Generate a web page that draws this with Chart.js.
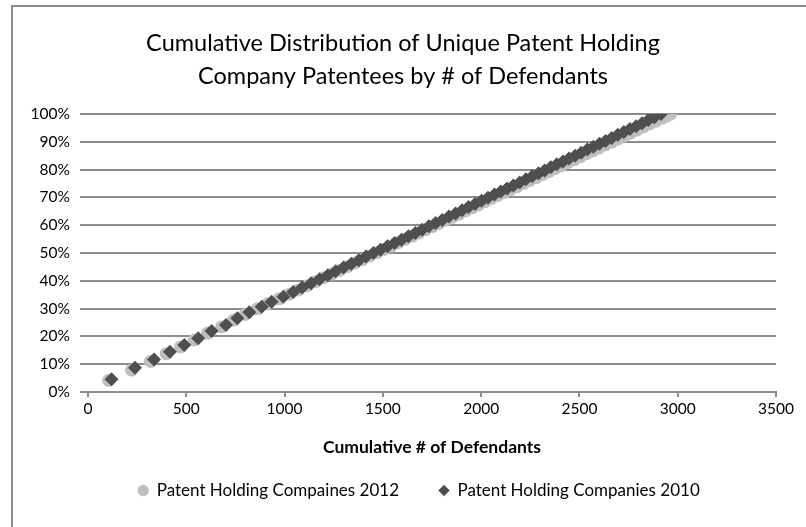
<!DOCTYPE html>
<html>
<head>
<meta charset="utf-8">
<script src="https://cdn.jsdelivr.net/npm/chart.js@4.4.1/dist/chart.umd.min.js"></script>
<style>
  body { margin: 0; background: #fff; }
  #wrap { position: relative; width: 806px; height: 527px; overflow: hidden; }
  #frame { position: absolute; left: 11px; top: 5px; width: 900px; height: 600px; border: 2px solid #8c8c8c; }
  #myChart { position: absolute; left: 0; top: 0; }
</style>
</head>
<body>
<div id="wrap">
  <div id="frame"></div>
  <canvas id="myChart" width="806" height="527"></canvas>
</div>
<script>
// cumulative # of defendants (x) and cumulative % of patentees (y)
const x2012 = [105, 222, 318, 398, 470, 541, 609, 680, 740, 800, 862, 914, 972, 1024,
  1070, 1115, 1158, 1200, 1240, 1280, 1320, 1358, 1396, 1433, 1470, 1506, 1542, 1578,
  1613, 1648, 1683, 1718, 1752, 1786, 1820, 1854, 1888, 1921, 1954, 1987, 2020, 2053,
  2086, 2119, 2152, 2184, 2216, 2248, 2280, 2312, 2344, 2376, 2408, 2440, 2472, 2504,
  2536, 2568, 2600, 2632, 2664, 2696, 2728, 2760, 2792, 2824, 2856, 2888, 2920, 2943, 2965];
const y2012 = [4.2, 7.9, 11.0, 13.8, 16.2, 18.7, 21.2, 23.4, 25.8, 27.9, 29.9, 31.7, 33.5, 35.2,
  36.7, 38.2, 39.7, 41.1, 42.4, 43.7, 45.1, 46.4, 47.6, 48.9, 50.1, 51.3, 52.5, 53.7,
  54.9, 56.0, 57.2, 58.4, 59.5, 60.6, 61.8, 62.9, 64.0, 65.1, 66.2, 67.3, 68.5, 69.6,
  70.7, 71.8, 72.9, 73.9, 75.0, 76.1, 77.1, 78.2, 79.3, 80.3, 81.4, 82.5, 83.5, 84.6,
  85.7, 86.7, 87.8, 88.9, 89.9, 91.0, 92.1, 93.1, 94.2, 95.3, 96.4, 97.4, 98.5, 99.2, 100.0];

const x2010 = [120, 239, 336, 417, 490, 561, 629, 702, 760, 821, 884, 934, 994, 1044,
  1090, 1135, 1178, 1220, 1260, 1300, 1340, 1378, 1415, 1452, 1488, 1524, 1560, 1595,
  1630, 1665, 1700, 1734, 1768, 1802, 1836, 1870, 1903, 1936, 1969, 2002, 2035, 2068,
  2100, 2132, 2164, 2196, 2228, 2260, 2292, 2323, 2354, 2385, 2416, 2447, 2478, 2509,
  2540, 2571, 2602, 2633, 2664, 2695, 2726, 2757, 2788, 2819, 2850, 2881, 2915];
const y2010 = [4.6, 8.7, 11.7, 14.5, 16.9, 19.3, 21.9, 24.1, 26.5, 28.7, 30.7, 32.5, 34.3, 36.0,
  37.6, 39.1, 40.6, 42.0, 43.4, 44.8, 46.1, 47.4, 48.7, 50.0, 51.2, 52.4, 53.6, 54.8,
  56.0, 57.2, 58.4, 59.6, 60.8, 61.9, 63.1, 64.2, 65.4, 66.5, 67.6, 68.8, 69.9, 71.0,
  72.1, 73.2, 74.3, 75.4, 76.5, 77.6, 78.7, 79.7, 80.8, 81.9, 82.9, 84.0, 85.0, 86.1,
  87.2, 88.2, 89.3, 90.3, 91.4, 92.5, 93.5, 94.6, 95.6, 96.7, 97.8, 98.8, 100.0];

const seriesNames = ["Patent Holding Compaines 2012", "Patent Holding Companies 2010"];
const titleLines = ["Cumulative Distribution of Unique Patent Holding", "Company Patentees by # of Defendants"];
const xTitle = "Cumulative # of Defendants";

function toPoints(xs, ys) {
  return xs.map((x, i) => ({ x: x, y: ys[i] }));
}

const fontFamily = "Lato, 'Open Sans', sans-serif";
const gridGray = "#8c8c8c";

// nudge the bottom legend to the right, where the original sits
const legendShift = {
  id: "legendShift",
  afterLayout(chart) {
    if (chart.legend) {
      chart.legend.left += 16;
      chart.legend.right += 16;
    }
  },
};

const ctx = document.getElementById("myChart").getContext("2d");
const myChart = new Chart(ctx, {
  type: "scatter",
  data: {
    datasets: [
      {
        label: seriesNames[0],
        data: toPoints(x2012, y2012),
        pointStyle: "circle",
        pointRadius: 6.5,
        backgroundColor: "#bfbfbf",
        borderColor: "#bfbfbf",
        borderWidth: 0,
        order: 2,
      },
      {
        label: seriesNames[1],
        data: toPoints(x2010, y2010),
        pointStyle: "rectRot",
        pointRadius: 7,
        backgroundColor: "#4f4f4f",
        borderColor: "#4f4f4f",
        borderWidth: 0,
        order: 1,
      },
    ],
  },
  options: {
    responsive: false,
    animation: false,
    events: [],
    layout: { padding: { left: 30, right: 30, top: 0, bottom: 18 } },
    scales: {
      x: {
        type: "linear",
        min: 0,
        max: 3500,
        afterFit: (scale) => { scale.height = 50; },
        ticks: {
          stepSize: 500,
          color: "#000",
          padding: 3,
          font: { family: fontFamily, size: 15.5 },
          callback: (v) => String(v),
        },
        grid: { drawOnChartArea: false, drawTicks: true, tickLength: 5, color: gridGray, lineWidth: 2 },
        border: { display: true, color: gridGray, width: 2 },
        title: {
          display: true,
          text: xTitle,
          color: "#000",
          font: { family: fontFamily, size: 17.5, weight: "bold" },
          padding: { top: 0, bottom: -15.5 },
        },
      },
      y: {
        min: 0,
        max: 100,
        afterFit: (scale) => { scale.width = 58; },
        ticks: {
          stepSize: 10,
          color: "#000",
          padding: 10,
          font: { family: fontFamily, size: 15.5 },
          callback: (v) => v + "%",
        },
        grid: { color: gridGray, lineWidth: 2, tickLength: 8 },
        border: { display: false },
      },
    },
    plugins: {
      title: {
        display: true,
        text: titleLines,
        color: "#000",
        font: { family: fontFamily, size: 23.5, weight: "normal", lineHeight: 1.404 },
        padding: { top: 26.5, bottom: 21.5 },
      },
      legend: {
        position: "bottom",
        labels: {
          usePointStyle: true,
          boxWidth: 10,
          boxHeight: 8,
          padding: 40,
          color: "#000",
          font: { family: fontFamily, size: 17 },
          sort: (a, b) => a.datasetIndex - b.datasetIndex,
        },
      },
      tooltip: { enabled: false },
    },
  },
  plugins: [legendShift],
});
</script>
</body>
</html>
